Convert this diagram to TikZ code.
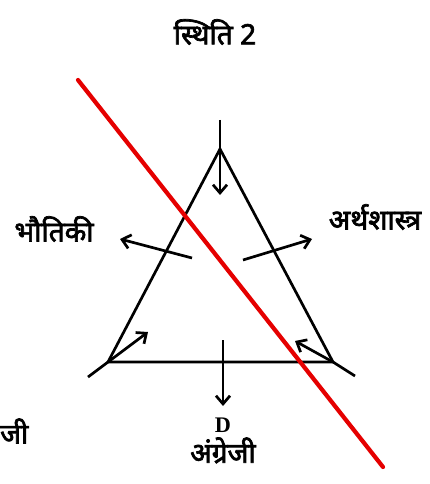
\documentclass[tikz,border=0pt]{standalone}
\usepackage{fontspec}
\newfontfamily\hindi[Script=Devanagari, AutoFakeBold=2.5]{Noto Sans}
\newfontfamily\latin{Liberation Serif}
\usetikzlibrary{arrows.meta, positioning}

\tikzset{
	edge/.style={line width=2.3pt},
	push/.style={line width=2.3pt, -{Straight Barb[length=7pt, width=12pt, line width=2.3pt]}},
	cut/.style={line width=3.6pt, red!90!black, line cap=round},
	label/.style={font=\hindi\bfseries\fontsize{24}{27}\selectfont, inner sep=0pt}
}

\begin{document}
\begin{tikzpicture}[x=0.03cm, y=-0.03cm]

	\useasboundingbox (0,0) rectangle (430,484);

	% corners of the triangle
	\coordinate (A) at (220,149);
	\coordinate (B) at (108,362);
	\coordinate (C) at (333,362);

	\coordinate (Atop) at (220,120);
	\coordinate (Aend) at (220,195);
	\coordinate (Bend) at (148,332);
	\coordinate (Bext) at (88,377);
	\coordinate (Cend) at (295,341);
	\coordinate (Cext) at (355,376);
	\coordinate (Dtop) at (223,340);
	\coordinate (Dend) at (223,406);
	\coordinate (Lstart) at (192,258);
	\coordinate (Lend) at (120,239);
	\coordinate (Rstart) at (243,260);
	\coordinate (Rend) at (312,239);
	\coordinate (cut1) at (78,80);
	\coordinate (cut2) at (383,467);

	\draw[edge] (A) -- (B) -- (C) -- cycle;
	\draw[edge] (Atop) -- (A);
	\draw[edge] (B) -- (Bext);
	\draw[edge] (C) -- (Cext);

	\draw[push] (A) -- (Aend);
	\draw[push] (B) -- (Bend);
	\draw[push] (C) -- (Cend);
	\draw[push] (Dtop) -- (Dend);
	\draw[push] (Lstart) -- (Lend);
	\draw[push] (Rstart) -- (Rend);

	\draw[cut] (cut1) -- (cut2);

	\node[label] (title) at (215,32) {स्थिति 2};
	\node[label] (phys) at (54,229) {भौतिकी};
	\node[label] (econ) at (375,217) {अर्थशास्त्र};
	\node[label, anchor=west] (left) at (0,431) {जी};
	\node[font=\latin\bfseries\fontsize{19}{21}\selectfont, inner sep=0pt] (D) at (223,425) {D};
	\node[label, below=4pt of D] (eng) {अंग्रेजी};

\end{tikzpicture}
\end{document}
